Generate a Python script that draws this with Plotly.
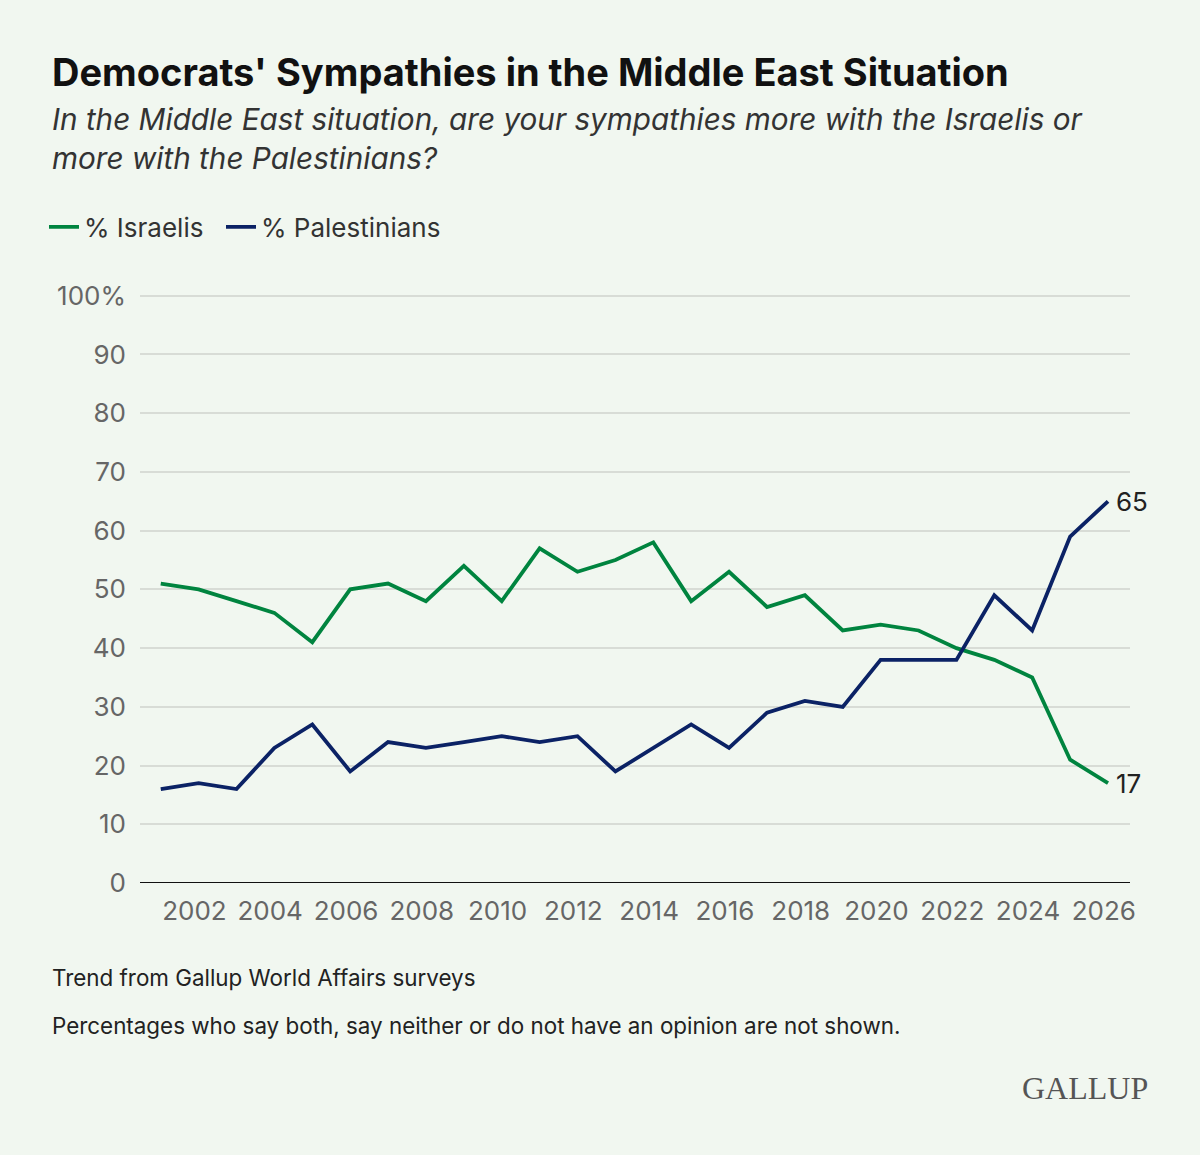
import plotly.graph_objects as go

# Données (sondages Gallup World Affairs, février de chaque année)
annees = list(range(2001, 2027))
israeliens = [51, 50, 48, 46, 41, 50, 51, 48, 54, 48, 57, 53, 55, 58, 48, 53, 47, 49,
              43, 44, 43, 40, 38, 35, 21, 17]
palestiniens = [16, 17, 16, 23, 27, 19, 24, 23, 24, 25, 24, 25, 19, 23, 27, 23, 29, 31,
                30, 38, 38, 38, 49, 43, 59, 65]
dates = [f"{a}-02-10" for a in annees]

y_ticks = [0, 10, 20, 30, 40, 50, 60, 70, 80, 90, 100]
y_labels = ["0", "10", "20", "30", "40", "50", "60", "70", "80", "90", "100%"]

VERT = "#00843f"
BLEU = "#0b2265"
FOND = "#f1f7f0"

fig = go.Figure()
fig.add_trace(go.Scatter(x=dates, y=israeliens, mode='lines', name='% Israelis',
                         line=dict(color=VERT, width=3.8), legend='legend'))
fig.add_trace(go.Scatter(x=dates, y=palestiniens, mode='lines', name='% Palestinians',
                         line=dict(color=BLEU, width=3.8), legend='legend2'))

# Étiquettes de fin de série
for serie in (israeliens, palestiniens):
    fig.add_annotation(x=dates[-1], y=serie[-1], text=str(serie[-1]), showarrow=False,
                       xanchor='left', xshift=6, font=dict(size=26, color="#222"))

# Conversion pixels -> coordonnées papier
L, R, T, B = 140, 1130, 294, 883
def px(x):
    return (x - L) / (R - L)
def py(y):
    return (B - y) / (B - T)

textes = [
    ("Democrats' Sympathies in the Middle East Situation", 50, 72,
     dict(size=38, color="#111", family="Inter", weight="bold")),
    ("<i>In the Middle East situation, are your sympathies more with the Israelis or</i>", 50, 119,
     dict(size=29.7, color="#333")),
    ("<i>more with the Palestinians?</i>", 50, 158, dict(size=29.7, color="#333")),
    ("Trend from Gallup World Affairs surveys", 50, 977, dict(size=22.4, color="#222")),
    ("Percentages who say both, say neither or do not have an opinion are not shown.", 50, 1025,
     dict(size=22.4, color="#222")),
]
for txt, x, y, f in textes:
    fig.add_annotation(text=txt, xref='paper', yref='paper', x=px(x), y=py(y),
                       xanchor='left', yanchor='middle', showarrow=False, font=f)

fig.add_annotation(text="GALLUP", xref='paper', yref='paper', x=px(1150), y=py(1088),
                   xanchor='right', yanchor='middle', showarrow=False,
                   font=dict(size=32, color="#555", family="Liberation Serif"))

legende = dict(orientation='h', xref='container', yref='container',
               y=1 - 227 / 1155, xanchor='left', yanchor='middle',
               font=dict(size=26, color="#333"), itemwidth=30,
               bgcolor='rgba(0,0,0,0)')

fig.update_layout(
    width=1200, height=1155,
    paper_bgcolor=FOND, plot_bgcolor=FOND,
    font=dict(family="Inter", size=26, color="#666"),
    margin=dict(l=L, r=1200 - R, t=T, b=1155 - B),
    showlegend=True,
    legend=dict(legende, x=44 / 1200),
    legend2=dict(legende, x=221 / 1200),
    xaxis=dict(type='date', range=["2000-07-25", "2026-09-10"], tick0="2002-01-01",
               dtick="M24", tickformat="%Y", showgrid=False, showline=False,
               zeroline=False, ticks='', ticklabelstandoff=10,
               tickfont=dict(size=26, color="#666")),
    yaxis=dict(range=[0, 100.3], tickvals=y_ticks, ticktext=y_labels, showgrid=True,
               gridcolor="#d8dcd6", gridwidth=1.5, zeroline=False, ticks='',
               ticklabelstandoff=13, tickfont=dict(size=26, color="#666")),
)
fig.add_hline(y=0, line=dict(color="#111", width=2))

fig.write_html("out.html", config={'displayModeBar': False},
               post_script="document.body.style.margin='0';"
                           "document.body.style.background='#f1f7f0';")
